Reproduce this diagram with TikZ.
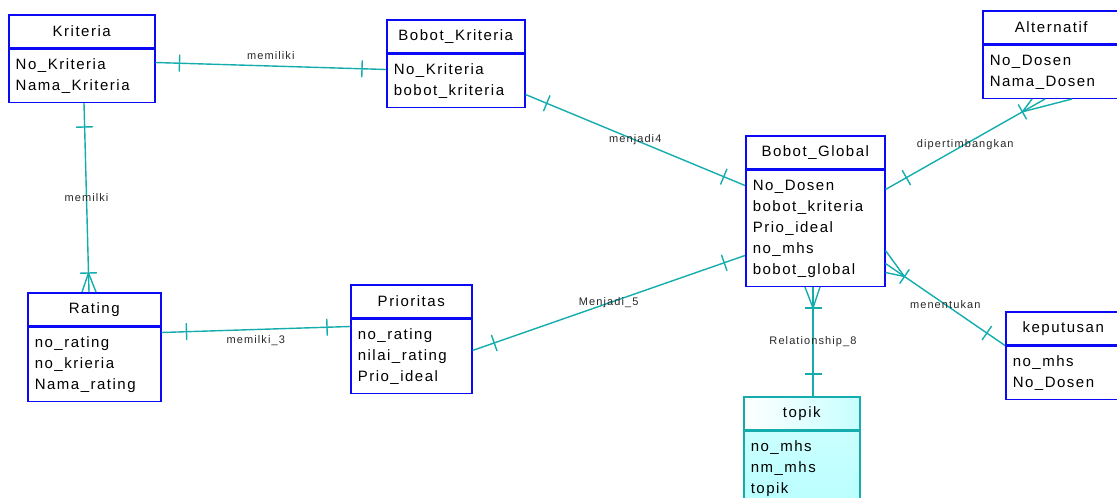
\documentclass[tikz,border=0pt]{standalone}
\usepackage{fontspec}
\newfontfamily\erfont[LetterSpace=10]{Liberation Sans}
\usetikzlibrary{calc,decorations.markings}

\definecolor{entblue}{RGB}{10,10,245}
\definecolor{relteal}{RGB}{20,172,172}
\definecolor{tcyan}{RGB}{185,255,255}

\begin{document}
\begin{tikzpicture}[x=1pt, y=-1pt,
  ehead/.style={draw=entblue, line width=1.5pt, anchor=north west, minimum height=33pt, inner sep=0pt, font=\erfont\fontsize{15}{21}\selectfont},
  ebody/.style={draw=entblue, line width=1.5pt, anchor=north west, align=left, inner xsep=7pt, inner ysep=5.5pt, font=\erfont\fontsize{15}{21}\selectfont, execute at begin node=\strut, execute at end node=\strut},
  rel/.style={draw=relteal, line width=1.4pt},
  tic/.style={postaction={decorate, decoration={markings, mark=at position #1 with {\draw[relteal, line width=1.4pt] (0pt,-8.5pt) -- (0pt,8.5pt);}}}},
  lbl/.style={font=\erfont\fontsize{11}{13}\selectfont, text=black!85, inner sep=0pt}]
\useasboundingbox (0,0) rectangle (1117,498);

% Entitas
\node[ehead, minimum width=146pt] (kri) at (8,14) {Kriteria};
\node[ebody, text width=132pt] (kri-b) at (kri.south west) {No\_Kriteria\\Nama\_Kriteria};

\node[ehead, minimum width=138pt] (bk) at (386,19) {Bobot\_Kriteria};
\node[ebody, text width=124pt] (bk-b) at (bk.south west) {No\_Kriteria\\bobot\_kriteria};

\node[ehead, minimum width=137pt] (alt) at (982,10) {Alternatif};
\node[ebody, text width=123pt] (alt-b) at (alt.south west) {No\_Dosen\\Nama\_Dosen};

\node[ehead, minimum width=139pt] (gb) at (745,135) {Bobot\_Global};
\node[ebody, text width=125pt] (gb-b) at (gb.south west) {No\_Dosen\\bobot\_kriteria\\Prio\_ideal\\no\_mhs\\bobot\_global};

\node[ehead, minimum width=133pt] (rat) at (27,292) {Rating};
\node[ebody, text width=119pt] (rat-b) at (rat.south west) {no\_rating\\no\_krieria\\Nama\_rating};

\node[ehead, minimum width=121pt] (pri) at (350,284) {Prioritas};
\node[ebody, text width=107pt] (pri-b) at (pri.south west) {no\_rating\\nilai\_rating\\Prio\_ideal};

\node[ehead, minimum width=115pt] (kep) at (1005,311) {keputusan};
\node[ebody, text width=101pt] (kep-b) at (kep.south west) {no\_mhs\\No\_Dosen};

\node[ehead, draw=relteal, left color=white, right color=tcyan!80!white, minimum width=116pt] (top) at (743,396) {topik};
\node[ebody, draw=relteal, top color=tcyan!75!white, bottom color=tcyan, text width=102pt] (top-b) at (top.south west) {no\_mhs\\nm\_mhs\\topik};

% Relasi
\draw[rel, tic=24pt, tic=-24pt] ([yshift=-14pt]kri-b.north east) -- node[lbl, above=6pt] (l1) {memiliki} ([yshift=-16pt]bk-b.north west);

\draw[rel, tic=24pt, tic=-19pt] ([xshift=76pt]kri-b.south west) coordinate (s2) -- node[lbl] (l2) {memilki} ([xshift=62pt]rat.north west) coordinate (e2);
\draw[rel] ($(e2)!19pt!(s2)$) coordinate (c2) -- ([xshift=55pt]rat.north west) (c2) -- ([xshift=69pt]rat.north west);

\draw[rel, tic=25pt, tic=-23pt] ([yshift=-6pt]rat-b.north east) -- node[lbl, below=5pt] (l3) {memilki\_3} ([yshift=-8pt]pri-b.north west);

\draw[rel, tic=23pt, tic=-22pt] ([yshift=-32pt]pri-b.north east) -- node[lbl] (l4) {Menjadi\_5} ([yshift=-86pt]gb-b.north west);

\draw[rel, tic=23pt, tic=-23pt] ([yshift=-41pt]bk-b.north east) -- node[lbl] (l5) {menjadi4} ([yshift=-16pt]gb-b.north west);

\draw[rel, tic=24pt, tic=-26pt] ([yshift=-20pt]gb-b.north east) coordinate (s6) -- node[lbl] (l6) {dipertimbangkan} ([xshift=63pt]alt-b.south west) coordinate (e6);
\draw[rel] ($(e6)!26pt!(s6)$) coordinate (c6) -- ([xshift=50pt]alt-b.south west) (c6) -- ([xshift=90pt]alt-b.south west);

\draw[rel, tic=23pt, tic=-22pt] ([yshift=-94pt]gb-b.north east) coordinate (s7) -- node[lbl] (l7) {menentukan} (kep-b.north west);
\draw[rel] ($(s7)!23pt!(kep-b.north west)$) coordinate (c7) -- ([yshift=-81pt]gb-b.north east) (c7) -- ([yshift=-103pt]gb-b.north east);

\draw[rel, tic=21pt, tic=-22pt] ([xshift=68pt]gb-b.south west) coordinate (s8) -- node[lbl] (l8) {Relationship\_8} ([xshift=70pt]top.north west);
\draw[rel] ($(s8)!21pt!([xshift=70pt]top.north west)$) coordinate (c8) -- ([xshift=60pt]gb-b.south west) (c8) -- ([xshift=75pt]gb-b.south west);
\end{tikzpicture}
\end{document}
